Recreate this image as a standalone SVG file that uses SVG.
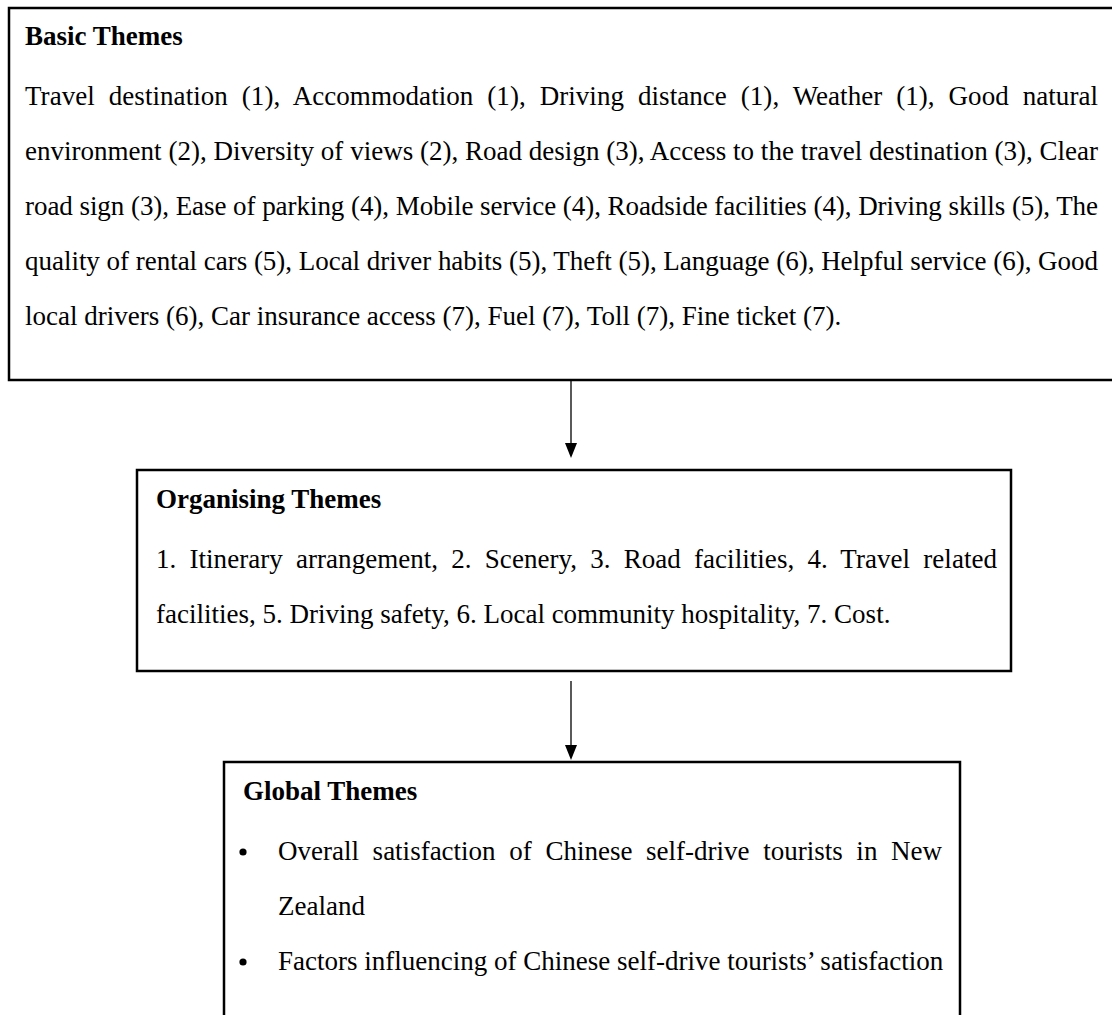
<svg xmlns="http://www.w3.org/2000/svg" width="1112" height="1015" viewBox="0 0 1112 1015">
<style>
.box{fill:#fff;stroke:#000;stroke-width:2.5}
.t{font-family:"Liberation Serif","Times New Roman",serif;font-size:27px;fill:#000}
.h{font-weight:bold}
.c{stroke:#000;stroke-width:1.3;fill:none}
.ah{fill:#000}
</style>
<rect width="1112" height="1015" fill="#fff"/>
<g id="basic">
<path class="box" d="M1114 8 H9 V380 H1114"/>
<text class="t h" x="25" y="45">Basic Themes</text>
<text class="t" x="25" y="105" word-spacing="7.09" textLength="1073" lengthAdjust="spacing">Travel destination (1), Accommodation (1), Driving distance (1), Weather (1), Good natural</text>
<text class="t" x="25" y="160" textLength="1073" lengthAdjust="spacing">environment (2), Diversity of views (2), Road design (3), Access to the travel destination (3), Clear</text>
<text class="t" x="25" y="215" textLength="1073" lengthAdjust="spacing">road sign (3), Ease of parking (4), Mobile service (4), Roadside facilities (4), Driving skills (5), The</text>
<text class="t" x="25" y="270" textLength="1073" lengthAdjust="spacing">quality of rental cars (5), Local driver habits (5), Theft (5), Language (6), Helpful service (6), Good</text>
<text class="t" x="25" y="325">local drivers (6), Car insurance access (7), Fuel (7), Toll (7), Fine ticket (7).</text>
</g>
<g id="organising">
<rect class="box" x="137" y="470" width="874" height="201"/>
<text class="t h" x="156" y="508">Organising Themes</text>
<text class="t" x="156" y="568" word-spacing="6.35" textLength="841" lengthAdjust="spacing">1. Itinerary arrangement, 2. Scenery, 3. Road facilities, 4. Travel related</text>
<text class="t" x="156" y="623">facilities, 5. Driving safety, 6. Local community hospitality, 7. Cost.</text>
</g>
<g id="global">
<path class="box" d="M224 1017 V762 H960 V1017"/>
<text class="t h" x="243" y="800">Global Themes</text>
<circle cx="243" cy="852" r="3.6" fill="#000"/>
<text class="t" x="278" y="860" word-spacing="6.9" textLength="664" lengthAdjust="spacing">Overall satisfaction of Chinese self-drive tourists in New</text>
<text class="t" x="278" y="915">Zealand</text>
<circle cx="243" cy="962" r="3.6" fill="#000"/>
<text class="t" x="278" y="970">Factors influencing of Chinese self-drive tourists’ satisfaction</text>
</g>
<g id="connectors">
<line class="c" x1="571" y1="381" x2="571" y2="445"/>
<polygon class="ah" points="565,443 577,443 571,458"/>
<line class="c" x1="571" y1="681" x2="571" y2="747"/>
<polygon class="ah" points="565,745 577,745 571,760"/>
</g>
</svg>
